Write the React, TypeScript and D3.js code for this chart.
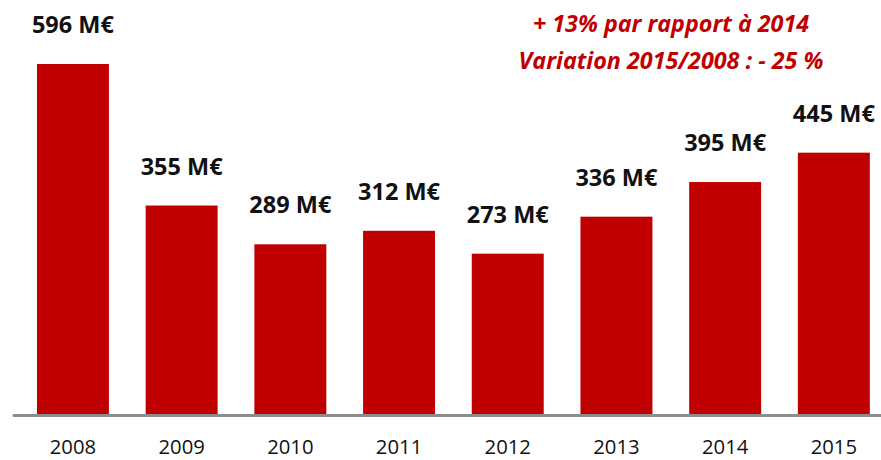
import React from "react";
import * as d3 from "d3";

const years = ["2008", "2009", "2010", "2011", "2012", "2013", "2014", "2015"];
const values = [596, 355, 289, 312, 273, 336, 395, 445];
const valueLabels = ["596 M€", "355 M€", "289 M€", "312 M€", "273 M€", "336 M€", "395 M€", "445 M€"];
const notes = ["+ 13% par rapport à 2014", "Variation 2015/2008 : - 25 %"];

const W = 881;
const H = 460;
const RED = "#C00000";
const FONT = "'Open Sans', 'DejaVu Sans', sans-serif";

export default function App() {
  const x = d3
    .scaleBand<string>()
    .domain(years)
    .range([18.6, 888.2])
    .paddingInner(0.338)
    .paddingOuter(0.169);
  const baseline = 414;
  const y = d3.scaleLinear().domain([0, 596]).range([baseline, 64]);

  return (
    <svg
      width={W}
      height={H}
      style={{ position: "absolute", left: 0, top: 0, background: "#fff" }}
      fontFamily={FONT}
    >
      {years.map((yr, i) => (
        <g key={yr}>
          <rect
            x={x(yr)}
            y={y(values[i])}
            width={x.bandwidth()}
            height={baseline - y(values[i])}
            fill={RED}
          />
          <text
            x={(x(yr) as number) + x.bandwidth() / 2}
            y={y(values[i]) - 31}
            textAnchor="middle"
            fontWeight={700}
            fontSize={23.5}
            fill="#111"
          >
            {valueLabels[i]}
          </text>
          <text
            x={(x(yr) as number) + x.bandwidth() / 2}
            y={453.5}
            textAnchor="middle"
            fontSize={20.3}
            fill="#111"
          >
            {yr}
          </text>
        </g>
      ))}
      <line x1={14} x2={W} y1={415.5} y2={415.5} stroke="#8C8C8C" strokeWidth={3} strokeLinecap="round" />
      {notes.map((n, i) => (
        <text
          key={n}
          x={671}
          y={32 + i * 37}
          textAnchor="middle"
          fontWeight={700}
          fontStyle="italic"
          fontSize={23.3}
          fill={RED}
        >
          {n}
        </text>
      ))}
    </svg>
  );
}
